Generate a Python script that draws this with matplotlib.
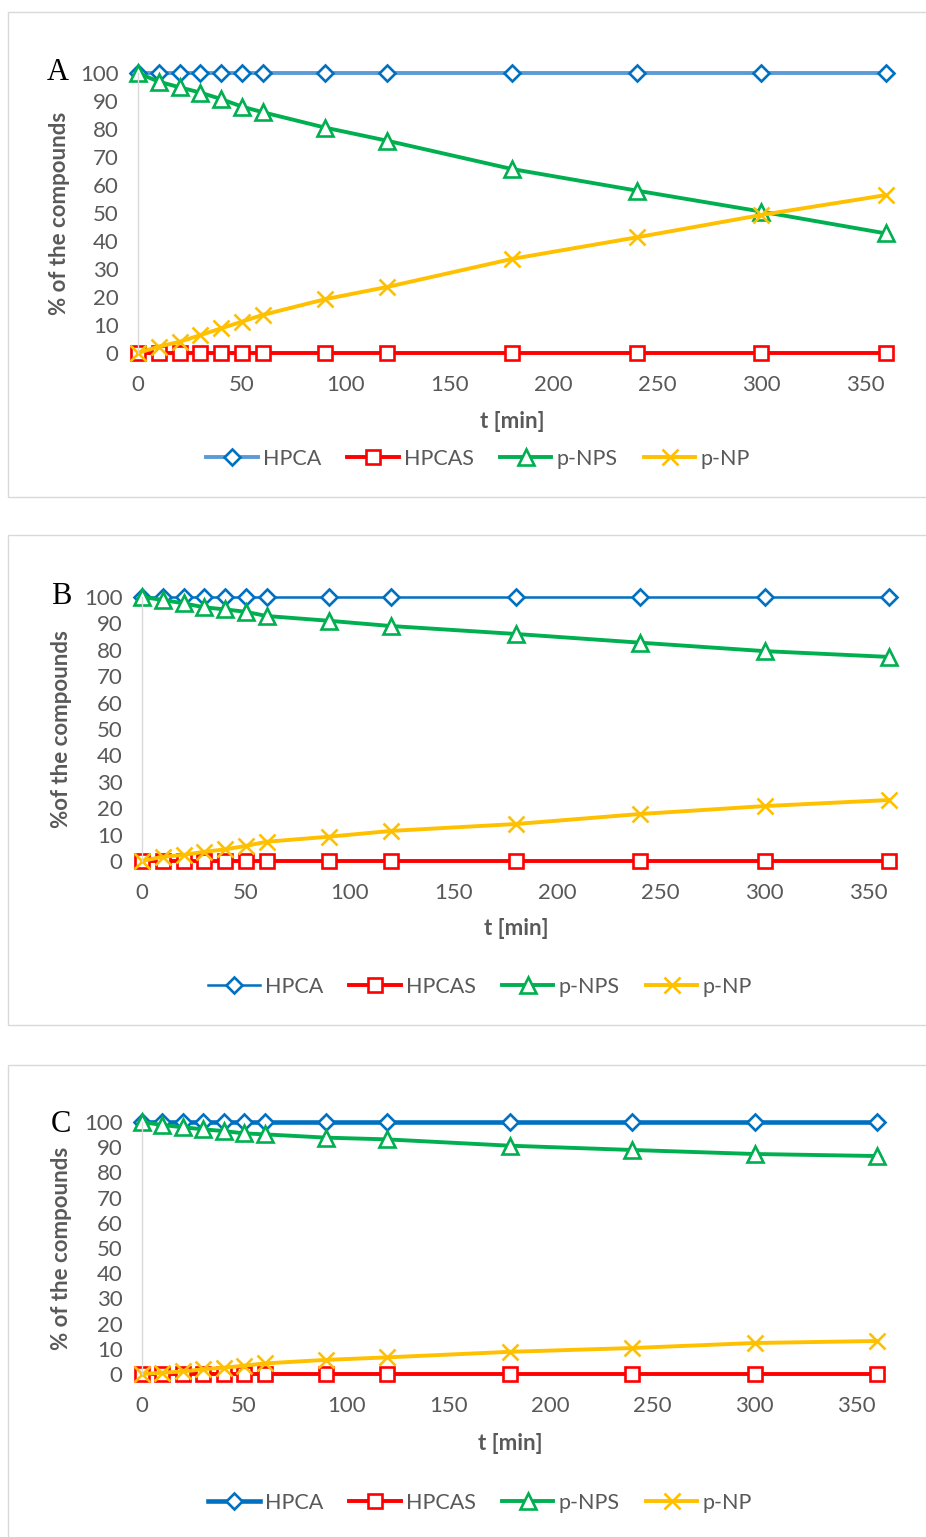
import matplotlib
matplotlib.use("Agg")
import matplotlib.pyplot as plt
from matplotlib.patches import Rectangle

# sampling times [min]
t_min = [0, 10, 20, 30, 40, 50, 60, 90, 120, 180, 240, 300, 360]
x_ticks = [0, 50, 100, 150, 200, 250, 300, 350]
y_ticks = [0, 10, 20, 30, 40, 50, 60, 70, 80, 90, 100]
series_names = ["HPCA", "HPCAS", "p-NPS", "p-NP"]

# panel A
hpca_a = [100, 100, 100, 100, 100, 100, 100, 100, 100, 100, 100, 100, 100]
hpcas_a = [0, 0, 0, 0, 0, 0, 0, 0, 0, 0, 0, 0, 0]
pnps_a = [100, 96.9, 94.9, 93.0, 90.7, 88.0, 86.0, 80.5, 75.8, 65.7, 58.0, 50.5, 42.7]
pnp_a = [0, 2.3, 4.0, 6.4, 8.8, 11.2, 13.6, 19.2, 23.6, 33.6, 41.3, 49.3, 56.4]

# panel B
hpca_b = [100, 100, 100, 100, 100, 100, 100, 100, 100, 100, 100, 100, 100]
hpcas_b = [0, 0, 0, 0, 0, 0, 0, 0, 0, 0, 0, 0, 0]
pnps_b = [100, 98.9, 97.6, 96.1, 95.3, 94.4, 92.8, 91.0, 89.0, 86.0, 82.7, 79.5, 77.3]
pnp_b = [0, 1.6, 2.3, 3.5, 4.4, 5.7, 7.3, 9.2, 11.4, 14.0, 17.8, 20.8, 23.1]

# panel C
hpca_c = [100, 100, 100, 100, 100, 100, 100, 100, 100, 100, 100, 100, 100]
hpcas_c = [0, 0, 0, 0, 0, 0, 0, 0, 0, 0, 0, 0, 0]
pnps_c = [100, 98.8, 97.9, 97.1, 96.4, 95.5, 95.1, 93.8, 93.1, 90.6, 88.9, 87.3, 86.5]
pnp_c = [0, 0.5, 1.0, 1.9, 2.5, 3.3, 4.2, 5.6, 6.6, 8.8, 10.3, 12.3, 13.1]

W, H, DPI = 926, 1537, 100
TXT = "#595959"
FONT = "Lato"

fig = plt.figure(figsize=(W / DPI, H / DPI), dpi=DPI)
fig.patch.set_facecolor("white")


def fx(x):
    return x / W


def fy(y):
    return 1 - y / H


panels = [
    dict(letter="A", data=(hpca_a, hpcas_a, pnps_a, pnp_a),
         box=(12, 497), ax=(138, 886, 73, 353), letter_xy=(58, 73),
         ylabel="% of the compounds", ylabel_xy=(60, 213),
         xlabel_xy=(512, 422), legend_xy=(478, 459),
         hpca_line="#5B9BD5", hpca_lw=2.8),
    dict(letter="B", data=(hpca_b, hpcas_b, pnps_b, pnp_b),
         box=(535, 1025), ax=(142, 889, 597, 861), letter_xy=(61, 596),
         ylabel="%of the compounds", ylabel_xy=(62, 729),
         xlabel_xy=(516, 929), legend_xy=(480, 987),
         hpca_line="#0070C0", hpca_lw=1.8),
    dict(letter="C", data=(hpca_c, hpcas_c, pnps_c, pnp_c),
         box=(1065, 1545), ax=(142, 877, 1122, 1374), letter_xy=(61, 1124),
         ylabel="% of the compounds", ylabel_xy=(62, 1248),
         xlabel_xy=(510, 1443), legend_xy=(480, 1503),
         hpca_line="#0070C0", hpca_lw=3.3),
]

for p in panels:
    top, bottom = p["box"]
    fig.add_artist(Rectangle((fx(8), fy(bottom)), fx(930) - fx(8), fy(top) - fy(bottom),
                             transform=fig.transFigure, fill=False,
                             edgecolor="#D9D9D9", lw=1.0))

    left, right, atop, abot = p["ax"]
    ax = fig.add_axes([fx(left), fy(abot), fx(right) - fx(left), fy(atop) - fy(abot)])
    ax.set_xlim(0, 360)
    ax.set_ylim(0, 100)
    for side in ["top", "right", "bottom"]:
        ax.spines[side].set_visible(False)
    ax.spines["left"].set_color("#D9D9D9")
    ax.spines["left"].set_linewidth(1.0)
    ax.set_xticks(x_ticks)
    ax.set_yticks(y_ticks)
    ax.tick_params(axis="both", length=0, labelsize=16, labelcolor=TXT)
    ax.tick_params(axis="x", pad=16)
    ax.tick_params(axis="y", pad=14)
    for lab in ax.get_xticklabels() + ax.get_yticklabels():
        lab.set_fontfamily(FONT)

    hpca, hpcas, pnps, pnp = p["data"]
    common = dict(markerfacecolor="white", markeredgewidth=1.9, clip_on=False)
    handles = []
    handles += ax.plot(t_min, hpca, color=p["hpca_line"], lw=p["hpca_lw"], marker="D",
                       markersize=8.6, markeredgecolor="#0070C0", **common)
    handles += ax.plot(t_min, hpcas, color="#FF0000", lw=2.8, marker="s",
                       markersize=10.5, markeredgecolor="#FF0000", **common)
    handles += ax.plot(t_min, pnps, color="#00B050", lw=2.8, marker="^",
                       markersize=12, markeredgecolor="#00B050", **common)
    handles += ax.plot(t_min, pnp, color="#FFC000", lw=2.8, marker="x",
                       markersize=11, markeredgecolor="#FFC000", **common)

    fig.text(fx(p["letter_xy"][0]), fy(p["letter_xy"][1]), p["letter"],
             family="Liberation Serif", fontsize=22, ha="center", va="center", color="black")
    fig.text(fx(p["ylabel_xy"][0]), fy(p["ylabel_xy"][1]), p["ylabel"],
             family=FONT, fontweight="bold", fontsize=16, color=TXT,
             rotation=90, ha="center", va="center")
    fig.text(fx(p["xlabel_xy"][0]), fy(p["xlabel_xy"][1]), "t [min]",
             family=FONT, fontweight="bold", fontsize=16, color=TXT,
             ha="center", va="center")

    leg = fig.legend(handles, series_names, loc="center",
                     bbox_to_anchor=(fx(p["legend_xy"][0]), fy(p["legend_xy"][1])),
                     ncol=4, frameon=False, handlelength=2.4, handletextpad=0.25,
                     columnspacing=1.2, prop=dict(family=FONT, size=15.5))
    for txt in leg.get_texts():
        txt.set_color(TXT)

fig.savefig("out.png", dpi=DPI, facecolor="white")
